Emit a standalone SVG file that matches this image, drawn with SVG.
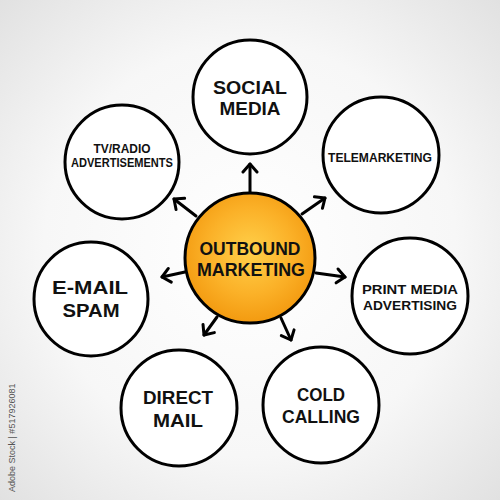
<svg xmlns="http://www.w3.org/2000/svg" width="500" height="500" viewBox="0 0 500 500">
<defs>
<radialGradient id="bg" cx="50%" cy="50%" r="75%">
<stop offset="0" stop-color="#ffffff"/>
<stop offset="0.55" stop-color="#f7f7f7"/>
<stop offset="1" stop-color="#dedede"/>
</radialGradient>
<radialGradient id="orange" cx="50%" cy="45%" r="55%">
<stop offset="0" stop-color="#ffd04a"/>
<stop offset="0.6" stop-color="#fbb128"/>
<stop offset="1" stop-color="#f39a10"/>
</radialGradient>
<marker id="arr" markerUnits="userSpaceOnUse" markerWidth="20" markerHeight="20" refX="10" refY="10" orient="auto">
<path d="M2,3 L10,10 L2,17" fill="none" stroke="#000" stroke-width="3" stroke-linecap="round" stroke-linejoin="round"/>
</marker>
<style>
.node{fill:#fff;stroke:#000;stroke-width:3}
.t{font-family:"Liberation Sans","DejaVu Sans",sans-serif;font-weight:bold;fill:#111;text-anchor:middle}
.big{font-size:18px}
.sm{font-size:12px}
.md{font-size:13px}
.conn line{stroke:#000;stroke-width:3;stroke-linecap:round;marker-end:url(#arr)}
</style>
</defs>
<rect width="500" height="500" fill="url(#bg)"/>
<g id="connectors" class="conn">
<line x1="250" y1="192" x2="250" y2="164"/>
<line x1="196" y1="216" x2="174" y2="199"/>
<line x1="302" y1="214" x2="325" y2="198"/>
<line x1="185" y1="272" x2="162" y2="277"/>
<line x1="316" y1="273" x2="345" y2="277"/>
<line x1="217" y1="317" x2="204" y2="335"/>
<line x1="281" y1="318" x2="291" y2="340"/>
</g>
<g id="center">
<circle cx="250" cy="258" r="65" fill="url(#orange)" stroke="#000" stroke-width="3"/>
<text class="t big" x="250" y="255" textLength="101" lengthAdjust="spacingAndGlyphs">OUTBOUND</text>
<text class="t big" x="251" y="276" textLength="108" lengthAdjust="spacingAndGlyphs">MARKETING</text>
</g>
<g id="social-media">
<circle class="node" cx="250" cy="97" r="57"/>
<text class="t big" x="250" y="94" textLength="74" lengthAdjust="spacingAndGlyphs">SOCIAL</text>
<text class="t big" x="250" y="115" textLength="61" lengthAdjust="spacingAndGlyphs">MEDIA</text>
</g>
<g id="tv-radio">
<circle class="node" cx="122" cy="162" r="57"/>
<text class="t sm" x="122" y="153" textLength="57" lengthAdjust="spacingAndGlyphs">TV/RADIO</text>
<text class="t sm" x="122" y="167" textLength="102" lengthAdjust="spacingAndGlyphs">ADVERTISEMENTS</text>
</g>
<g id="telemarketing">
<circle class="node" cx="381" cy="155" r="58"/>
<text class="t sm" x="380" y="162" textLength="104" lengthAdjust="spacingAndGlyphs">TELEMARKETING</text>
</g>
<g id="email-spam">
<circle class="node" cx="91" cy="299" r="57"/>
<text class="t big" x="90" y="294" textLength="76" lengthAdjust="spacingAndGlyphs">E-MAIL</text>
<text class="t big" x="91" y="317" textLength="57" lengthAdjust="spacingAndGlyphs">SPAM</text>
</g>
<g id="print-media">
<circle class="node" cx="410" cy="296" r="58"/>
<text class="t md" x="410" y="294" textLength="96" lengthAdjust="spacingAndGlyphs">PRINT MEDIA</text>
<text class="t md" x="410" y="310" textLength="94" lengthAdjust="spacingAndGlyphs">ADVERTISING</text>
</g>
<g id="direct-mail">
<circle class="node" cx="179" cy="408" r="58"/>
<text class="t big" x="178" y="404" textLength="70" lengthAdjust="spacingAndGlyphs">DIRECT</text>
<text class="t big" x="178" y="427" textLength="50" lengthAdjust="spacingAndGlyphs">MAIL</text>
</g>
<g id="cold-calling">
<circle class="node" cx="321" cy="405" r="58"/>
<text class="t big" x="321" y="401" textLength="48" lengthAdjust="spacingAndGlyphs">COLD</text>
<text class="t big" x="321" y="423" textLength="78" lengthAdjust="spacingAndGlyphs">CALLING</text>
</g>
<text transform="translate(15,492) rotate(-90)" style="font-family:'Liberation Sans',sans-serif;font-size:9px;fill:#555">Adobe Stock | #517926081</text>
</svg>
